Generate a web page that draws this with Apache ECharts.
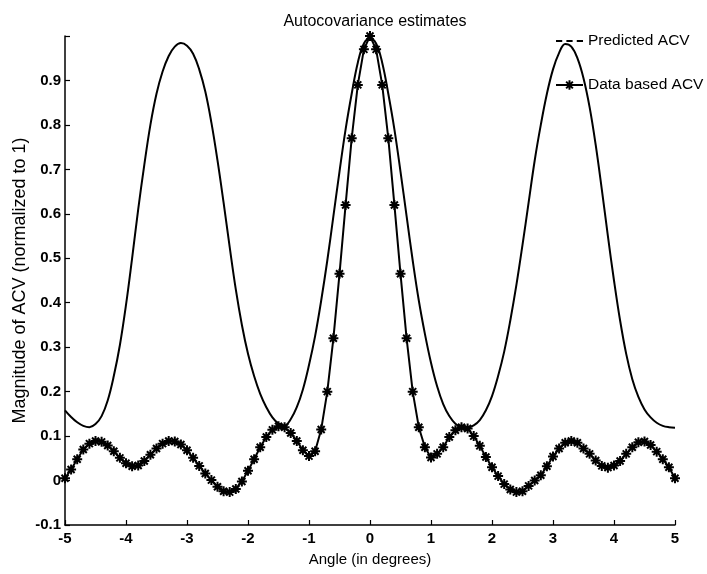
<!DOCTYPE html>
<html>
<head>
<meta charset="utf-8">
<script src="https://cdn.jsdelivr.net/npm/echarts@6/dist/echarts.min.js"></script>
<style>
  html, body { margin: 0; padding: 0; background: #fff; }
  #chart { width: 707px; height: 574px; }
</style>
</head>
<body>
<div id="chart"></div>
<script>
// Sample angles (degrees)
const angles = [
  -5.0, -4.9, -4.8, -4.7, -4.6, -4.5, -4.4, -4.3, -4.2, -4.1,
  -4.0, -3.9, -3.8, -3.7, -3.6, -3.5, -3.4, -3.3, -3.2, -3.1,
  -3.0, -2.9, -2.8, -2.7, -2.6, -2.5, -2.4, -2.3, -2.2, -2.1,
  -2.0, -1.9, -1.8, -1.7, -1.6, -1.5, -1.4, -1.3, -1.2, -1.1,
  -1.0, -0.9, -0.8, -0.7, -0.6, -0.5, -0.4, -0.3, -0.2, -0.1,
  0.0, 0.1, 0.2, 0.3, 0.4, 0.5, 0.6, 0.7, 0.8, 0.9,
  1.0, 1.1, 1.2, 1.3, 1.4, 1.5, 1.6, 1.7, 1.8, 1.9,
  2.0, 2.1, 2.2, 2.3, 2.4, 2.5, 2.6, 2.7, 2.8, 2.9,
  3.0, 3.1, 3.2, 3.3, 3.4, 3.5, 3.6, 3.7, 3.8, 3.9,
  4.0, 4.1, 4.2, 4.3, 4.4, 4.5, 4.6, 4.7, 4.8, 4.9,
  5.0
];

// Predicted autocovariance (normalized)
const predictedACV = [
  0.158, 0.143, 0.131, 0.123, 0.120, 0.127, 0.145, 0.180, 0.235, 0.305,
  0.395, 0.500, 0.610, 0.710, 0.800, 0.870, 0.920, 0.955, 0.976, 0.984,
  0.978, 0.960, 0.925, 0.875, 0.805, 0.720, 0.625, 0.525, 0.430, 0.350,
  0.285, 0.235, 0.195, 0.165, 0.142, 0.128, 0.124, 0.138, 0.165, 0.205,
  0.260, 0.325, 0.405, 0.495, 0.595, 0.695, 0.790, 0.870, 0.940, 0.983,
  0.995, 0.983, 0.940, 0.870, 0.790, 0.695, 0.595, 0.495, 0.405, 0.330,
  0.265, 0.212, 0.172, 0.145, 0.128, 0.120, 0.119, 0.124, 0.136, 0.158,
  0.190, 0.235, 0.290, 0.360, 0.440, 0.530, 0.625, 0.720, 0.800, 0.870,
  0.925, 0.962, 0.982, 0.976, 0.950, 0.905, 0.840, 0.755, 0.655, 0.550,
  0.450, 0.360, 0.285, 0.228, 0.188, 0.160, 0.142, 0.130, 0.123, 0.120,
  0.119
];

// Autocovariance estimated from the data (normalized)
const dataACV = [
  0.005, 0.025, 0.048, 0.070, 0.083, 0.089, 0.087, 0.079, 0.066, 0.051,
  0.039, 0.032, 0.034, 0.044, 0.058, 0.072, 0.083, 0.089, 0.088, 0.081,
  0.068, 0.051, 0.033, 0.016, 0.001, -0.014, -0.024, -0.026, -0.019, -0.002,
  0.022, 0.048, 0.075, 0.098, 0.114, 0.122, 0.120, 0.107, 0.089, 0.068,
  0.055, 0.066, 0.115, 0.200, 0.320, 0.465, 0.620, 0.770, 0.890, 0.970,
  1.000, 0.970, 0.890, 0.770, 0.620, 0.465, 0.320, 0.200, 0.120, 0.075,
  0.052, 0.060, 0.075, 0.098, 0.113, 0.120, 0.117, 0.100, 0.078, 0.053,
  0.030, 0.010, -0.008, -0.020, -0.026, -0.024, -0.012, 0.000, 0.012, 0.032,
  0.054, 0.072, 0.085, 0.089, 0.085, 0.072, 0.060, 0.045, 0.033, 0.029,
  0.034, 0.044, 0.060, 0.075, 0.086, 0.088, 0.080, 0.065, 0.048, 0.030,
  0.005
];

const seriesNames = ['Predicted ACV', 'Data based ACV'];

const xTicks = { min: -5, max: 5, step: 1 };
const yTicks = { min: -0.1, max: 1.0, step: 0.1 };

const pair = (xs, ys) => xs.map((x, i) => [x, ys[i]]);

// eight-armed asterisk marker, drawn as strokes
const asterisk = 'path://M5,0L5,10M0,5L10,5M1.5,1.5L8.5,8.5M1.5,8.5L8.5,1.5';
// legend sample "- - -" as three short filled bars
const dashedSample = 'path://M0,0h6v2h-6zM10,0h6v2h-6zM20,0h6v2h-6z';

const font = '"Liberation Sans", Arial, Helvetica, sans-serif';

const chart = echarts.init(document.getElementById('chart'), null, { renderer: 'canvas' });

chart.setOption({
  backgroundColor: '#fff',
  animation: false,
  title: {
    text: 'Autocovariance estimates',
    left: 370,
    top: 9,
    textAlign: 'center',
    textStyle: { fontFamily: font, fontSize: 16, fontWeight: 'normal', color: '#000' }
  },
  legend: {
    data: [
      { name: seriesNames[0], icon: dashedSample, itemStyle: { color: '#000' } },
      { name: seriesNames[1] }
    ],
    orient: 'vertical',
    left: 550,
    top: 28,
    itemWidth: 27,
    itemHeight: 12,
    itemGap: 28,
    selectedMode: false,
    textStyle: { fontFamily: font, fontSize: 15.5, color: '#000' }
  },
  grid: {
    left: 65,
    right: 32,
    top: 36,
    bottom: 49,
    containLabel: false,
    outerBoundsMode: 'none'
  },
  xAxis: {
    type: 'value',
    min: xTicks.min,
    max: xTicks.max,
    interval: xTicks.step,
    name: 'Angle (in degrees)',
    nameLocation: 'middle',
    nameGap: 27,
    nameMoveOverlap: false,
    nameTextStyle: { fontFamily: font, fontSize: 15, color: '#000' },
    axisLine: { onZero: false, lineStyle: { color: '#000', width: 1.5 } },
    axisTick: { inside: true, length: 5, lineStyle: { color: '#000', width: 1.2 } },
    axisLabel: {
      margin: 6,
      fontFamily: font, fontSize: 15, fontWeight: 'bold', color: '#000',
      formatter: v => String(Math.round(v))
    },
    splitLine: { show: false }
  },
  yAxis: {
    type: 'value',
    min: yTicks.min,
    max: yTicks.max,
    interval: yTicks.step,
    name: 'Magnitude of ACV (normalized to 1)',
    nameLocation: 'middle',
    nameGap: 36,
    nameMoveOverlap: false,
    nameTextStyle: { fontFamily: font, fontSize: 18, color: '#000' },
    axisLine: { onZero: false, lineStyle: { color: '#000', width: 1.5 } },
    axisTick: { inside: true, length: 5, lineStyle: { color: '#000', width: 1.2 } },
    axisLabel: {
      margin: 4,
      fontFamily: font, fontSize: 15, fontWeight: 'bold', color: '#000',
      formatter: v => (v > 0.95 ? '' : String(+v.toFixed(1)))
    },
    splitLine: { show: false }
  },
  series: [
    {
      name: seriesNames[0],
      type: 'line',
      data: pair(angles, predictedACV),
      smooth: 0.4,
      showSymbol: false,
      symbol: 'none',
      lineStyle: { color: '#000', width: 2 },
      itemStyle: { color: '#000' },
      z: 2
    },
    {
      name: seriesNames[1],
      type: 'line',
      data: pair(angles, dataACV),
      symbol: asterisk,
      symbolSize: 10,
      symbolKeepAspect: true,
      showAllSymbol: true,
      lineStyle: { color: '#000', width: 2 },
      itemStyle: { color: '#000', borderColor: '#000', borderWidth: 2 },
      z: 3
    }
  ]
});
</script>
</body>
</html>
